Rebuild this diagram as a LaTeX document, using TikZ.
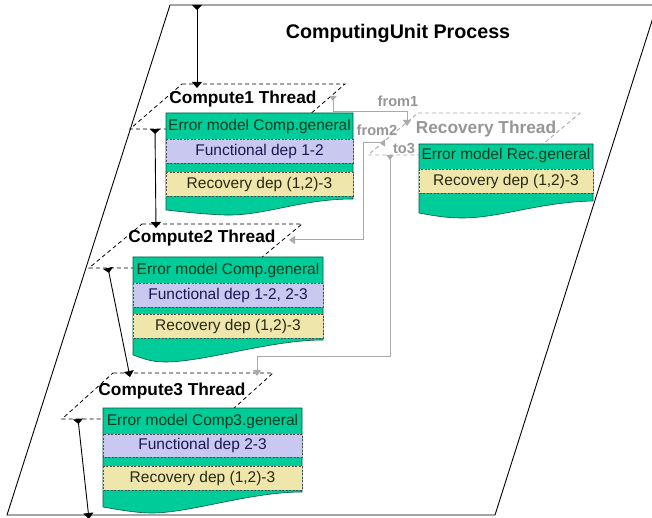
\documentclass[tikz,border=0pt]{standalone}
\usepackage{fontspec}
\setmainfont{Liberation Sans}
\usetikzlibrary{arrows.meta}
\definecolor{boxgreen}{RGB}{0,204,153}
\definecolor{boxline}{RGB}{0,90,60}
\definecolor{funcfill}{RGB}{200,200,240}
\definecolor{recfill}{RGB}{238,230,170}
\definecolor{lgray}{RGB}{170,170,170}
\definecolor{tgray}{RGB}{150,150,150}
\definecolor{errtext}{RGB}{0,60,30}
\definecolor{functext}{RGB}{25,25,80}
\definecolor{rectext}{RGB}{40,40,20}
\begin{document}
\begin{tikzpicture}[x=1pt,y=-1pt,
  threadpg/.style={draw=black, dash pattern=on 4pt off 3pt, line width=0.8pt},
  recpg/.style={draw=lgray, dash pattern=on 4pt off 3pt, line width=0.9pt},
  conn/.style={line width=0.9pt, {Triangle[reversed,length=5pt,width=10pt]}-{Triangle[length=6pt,width=10pt]}},
  gconn/.style={draw=lgray, line width=1pt, {Triangle[reversed,length=5pt,width=7pt]}-{Triangle[length=6pt,width=8pt]}},
  boxshape/.style={fill=boxgreen, draw=boxline, line width=0.6pt},
  funcrow/.style={fill=funcfill, draw=black!70, dash pattern=on 2pt off 1.5pt, line width=0.5pt},
  recrow/.style={fill=recfill, draw=black!70, dash pattern=on 2pt off 1.5pt, line width=0.5pt},
  rowtext/.style={font=\fontsize{15.5}{18}\selectfont, inner sep=0pt},
  threadlabel/.style={font=\bfseries\fontsize{17.3}{20}\selectfont, inner sep=0pt},
  glabel/.style={font=\bfseries\fontsize{14.6}{17}\selectfont, text=tgray, inner sep=0pt}
]
\useasboundingbox (0,0) rectangle (652,518);
\clip (0,0) rectangle (652,518);
% outer process
\draw[line width=0.9pt] (170,5) -- (657,5) -- (495,515) -- (7,515) -- cycle;
\node[font=\bfseries\fontsize{19.7}{22}\selectfont, inner sep=0pt] (title) at (398,33) {ComputingUnit Process};

% thread parallelograms
\draw[threadpg] (182,84) -- (345,84) -- (293,129) -- (130,129) -- cycle;
\draw[threadpg] (142,224) -- (302,224) -- (249,268) -- (89,268) -- cycle;
\draw[threadpg] (113,373) -- (273,373) -- (222,419) -- (62,419) -- cycle;
\draw[recpg] (418,113) -- (580,113) -- (530,155) -- (368,155) -- cycle;

% connector end points
\coordinate (pTop) at (197,5);
\coordinate (t1in) at (197,88);
\coordinate (t1out) at (155,129);
\coordinate (t2in) at (156,228);
\coordinate (t2out) at (108,268);
\coordinate (t3in) at (130,377);
\coordinate (t3out) at (78,419);
\coordinate (pBot) at (89,519);
\coordinate (f1s) at (333,96);
\coordinate (f1e) at (407,126);
\coordinate (f2s) at (385,143);
\coordinate (f2e) at (289,240);
\coordinate (t3s) at (390,155);
\coordinate (t3e) at (257,376);

% black connectors
\draw[conn] (pTop) -- (t1in);
\draw[conn] (t1out) -- (t2in);
\draw[conn] (t2out) -- (t3in);
\draw[conn] (t3out) -- (pBot);

% gray connectors
\draw[gconn] (f1s) -- (333,112) -- (407,112) -- (f1e);
\draw[gconn] (f2s) -- (363,143) -- (363,240) -- (f2e);
\draw[gconn] (t3s) -- (390,356) -- (257,356) -- (t3e);
\node[glabel] (lf1) at (398,101) {from1};
\node[glabel] (lf2) at (377,130) {from2};
\node[glabel] (lt3) at (404,148) {to3};

% Compute1 box
\path[boxshape] (166,113) -- (353,113) -- (353,199) .. controls (300,199) and (265,216) .. (225,215) .. controls (200,214) and (185,212) .. (166,210) -- cycle;
\draw[funcrow] (166,139) rectangle (353,163);
\draw[recrow] (166,172) rectangle (353,196);
\node[rowtext, text=errtext] (c1e) at (259.5,126) {Error model Comp.general};
\node[rowtext, text=functext] (c1f) at (259.5,151) {Functional dep 1-2};
\node[rowtext, text=rectext] (c1r) at (259.5,184) {Recovery dep (1,2)-3};

% Compute2 box
\path[boxshape] (133,257) -- (323,257) -- (323,340) .. controls (270,340) and (205,362) .. (165,362) .. controls (150,362) and (142,358) .. (133,355) -- cycle;
\draw[funcrow] (133,283) rectangle (323,307);
\draw[recrow] (133,314) rectangle (323,338);
\node[rowtext, text=errtext] (c2e) at (228,270) {Error model Comp.general};
\node[rowtext, text=functext] (c2f) at (228,295) {Functional dep 1-2, 2-3};
\node[rowtext, text=rectext] (c2r) at (228,326) {Recovery dep (1,2)-3};

% Compute3 box
\path[boxshape] (103,408) -- (302,408) -- (302,492) .. controls (250,492) and (190,513) .. (152,513) .. controls (135,513) and (115,509) .. (103,507) -- cycle;
\draw[funcrow] (103,434) rectangle (302,457);
\draw[recrow] (103,466) rectangle (302,490);
\node[rowtext, text=errtext] (c3e) at (202.5,421) {Error model Comp3.general};
\node[rowtext, text=functext] (c3f) at (202.5,445.5) {Functional dep 2-3};
\node[rowtext, text=rectext] (c3r) at (202.5,478) {Recovery dep (1,2)-3};

% Recovery box
\path[boxshape] (419,144) -- (593,144) -- (593,201) .. controls (540,202) and (500,218) .. (462,218) .. controls (445,218) and (430,215) .. (419,213) -- cycle;
\draw[recrow] (419,169) rectangle (593,193);
\node[rowtext, text=errtext] (rre) at (506,155.5) {Error model Rec.general};
\node[rowtext, text=rectext] (rrr) at (506,181) {Recovery dep (1,2)-3};

% thread labels
\node[threadlabel] (t1) at (243,99) {Compute1 Thread};
\node[threadlabel] (t2) at (202,238) {Compute2 Thread};
\node[threadlabel] (t3) at (172,391) {Compute3 Thread};
\node[threadlabel, text=tgray] (tr) at (486,129) {Recovery Thread};
\end{tikzpicture}
\end{document}
